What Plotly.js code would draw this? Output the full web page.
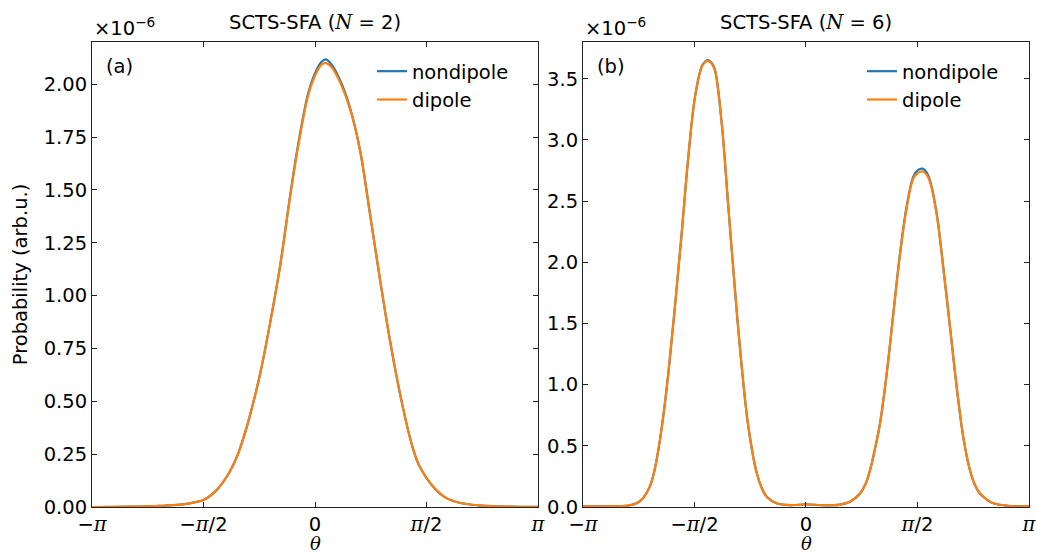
<!DOCTYPE html>
<html><head><meta charset="utf-8">
<script src="https://cdn.plot.ly/plotly-3.0.1.min.js"></script>
<style>body{margin:0;background:#fff}</style>
</head><body>
<div id="chart" style="width:1037px;height:557px"></div>
<script>
// Panel (a): N = 2 ; probability in units of 1e-6
const thetaA = [-3.1416,-2.80,-2.50,-2.20,-1.90,-1.70,-1.571,-1.40,-1.30,-1.195,-1.08,-0.960,-0.865,-0.773,-0.633,-0.492,-0.352,-0.235,-0.094,0.024,0.09,0.155,0.24,0.352,0.492,0.633,0.773,0.914,1.055,1.195,1.336,1.40,1.477,1.664,1.852,2.039,2.30,2.60,2.90,3.1416];
const nondipoleA = [0.000,0.0005,0.002,0.005,0.011,0.022,0.033,0.075,0.115,0.17,0.255,0.38,0.50,0.63,0.87,1.14,1.47,1.72,1.96,2.07,2.105,2.118,2.09,2.02,1.89,1.69,1.39,1.08,0.79,0.54,0.33,0.255,0.19,0.096,0.042,0.02,0.008,0.003,0.001,0.0005];
const dipoleA    = [0.000,0.0005,0.002,0.005,0.011,0.022,0.033,0.075,0.115,0.17,0.255,0.38,0.50,0.63,0.87,1.14,1.465,1.71,1.95,2.058,2.092,2.100,2.078,2.01,1.885,1.69,1.39,1.08,0.79,0.54,0.33,0.255,0.19,0.096,0.042,0.02,0.008,0.003,0.001,0.0005];

// Panel (b): N = 6 ; probability in units of 1e-6
const thetaB = [-3.1416,-2.90,-2.62,-2.50,-2.385,-2.29,-2.198,-2.13,-2.057,-2.00,-1.940,-1.846,-1.751,-1.658,-1.564,-1.469,-1.43,-1.385,-1.33,-1.282,-1.188,-1.095,-1.000,-0.906,-0.813,-0.695,-0.62,-0.554,-0.413,-0.21,0.0,0.21,0.40,0.479,0.620,0.761,0.84,0.902,0.97,1.042,1.137,1.230,1.324,1.419,1.512,1.58,1.644,1.70,1.747,1.841,1.934,2.029,2.123,2.216,2.310,2.38,2.451,2.55,2.639,2.874,3.1416];
const nondipoleB = [0.005,0.005,0.007,0.012,0.03,0.075,0.17,0.31,0.55,0.79,1.09,1.64,2.24,2.86,3.35,3.60,3.635,3.652,3.63,3.57,3.14,2.46,1.77,1.15,0.66,0.28,0.15,0.084,0.03,0.015,0.022,0.015,0.015,0.02,0.043,0.11,0.19,0.30,0.47,0.68,1.09,1.58,2.07,2.46,2.70,2.755,2.765,2.735,2.67,2.40,1.96,1.47,0.98,0.57,0.30,0.18,0.11,0.06,0.03,0.008,0.005];
const dipoleB    = [0.005,0.005,0.007,0.012,0.03,0.075,0.17,0.31,0.55,0.79,1.09,1.64,2.24,2.86,3.35,3.597,3.63,3.645,3.625,3.565,3.14,2.46,1.77,1.15,0.66,0.28,0.15,0.084,0.03,0.015,0.022,0.015,0.015,0.02,0.043,0.11,0.19,0.30,0.47,0.68,1.09,1.575,2.06,2.445,2.685,2.73,2.742,2.715,2.655,2.39,1.955,1.47,0.98,0.57,0.30,0.18,0.11,0.06,0.03,0.008,0.005];

const xTickVals = [-Math.PI, -Math.PI/2, 0, Math.PI/2, Math.PI];
const xTickLabels = ['−π','−π/2','0','π/2','π'];
const seriesNames = ['nondipole','dipole'];
const panelTitles = ['SCTS-SFA (N = 2)','SCTS-SFA (N = 6)'];
const panelLabels = ['(a)','(b)'];
const xTitle = 'θ';
const yTitle = 'Probability (arb.u.)';

const SERIF = "DejaVu Serif";
const fmtPi = s => s.replace('π', '<span style="font-family:\'' + SERIF + '\'"><i>π</i></span>');
const fmtN = s => s.replace('N', '<span style="font-family:\'' + SERIF + '\'"><i>N</i></span>');
const xTickText = xTickLabels.map(fmtPi);

const BLUE = '#1f77b4', ORANGE = '#ff7f0e';
const LW = 2.2;
function tr(x, y, name, color, xa, ya, lg) {
  return {x: x, y: y, name: name, type: 'scatter', mode: 'lines',
    line: {color: color, width: LW, shape: 'spline', smoothing: 1},
    xaxis: xa, yaxis: ya, legend: lg, hoverinfo: 'skip'};
}
const data = [
  tr(thetaA, nondipoleA, seriesNames[0], BLUE, 'x', 'y', 'legend'),
  tr(thetaA, dipoleA, seriesNames[1], ORANGE, 'x', 'y', 'legend'),
  tr(thetaB, nondipoleB, seriesNames[0], BLUE, 'x2', 'y2', 'legend2'),
  tr(thetaB, dipoleB, seriesNames[1], ORANGE, 'x2', 'y2', 'legend2')
];

const FS = 19.5;
const axisCommon = {
  showline: true, linecolor: '#222', linewidth: 1, mirror: 'ticks',
  ticks: 'inside', ticklen: 5, tickwidth: 1, tickcolor: '#222',
  showgrid: false, zeroline: false,
  tickfont: {family: 'DejaVu Sans', size: FS, color: '#000'}
};
const xCommon = Object.assign({}, axisCommon, {
  range: [-Math.PI, Math.PI], tickmode: 'array', tickvals: xTickVals, ticktext: xTickText
});

const pH = 465, pW = 937;
const px = v => (v - 92) / pW;
const py = v => (507 - v) / pH;

const layout = {
  width: 1037, height: 557,
  margin: {l: 92, r: 8, t: 42, b: 50},
  paper_bgcolor: '#fff', plot_bgcolor: '#fff',
  font: {family: 'DejaVu Sans', size: FS, color: '#000'},
  xaxis: Object.assign({}, xCommon, {domain: [0, 0.476], anchor: 'y'}),
  xaxis2: Object.assign({}, xCommon, {domain: [0.524, 1], anchor: 'y2'}),
  yaxis: Object.assign({}, axisCommon, {range: [0, 2.2], tick0: 0, dtick: 0.25, tickformat: '.2f', anchor: 'x',
    title: {text: yTitle, font: {family: 'DejaVu Sans', size: FS, color: '#000'}, standoff: 10}}),
  yaxis2: Object.assign({}, axisCommon, {range: [0, 3.8], tick0: 0, dtick: 0.5, tickformat: '.1f', anchor: 'x2'}),
  legend: {x: px(372), y: py(52), xanchor: 'left', yanchor: 'top', bgcolor: 'rgba(0,0,0,0)',
    font: {family: 'DejaVu Sans', size: FS, color: '#000'}},
  legend2: {x: px(862), y: py(52), xanchor: 'left', yanchor: 'top', bgcolor: 'rgba(0,0,0,0)',
    font: {family: 'DejaVu Sans', size: FS, color: '#000'}},
  annotations: [
    {text: fmtN(panelTitles[0]), xref: 'paper', yref: 'paper', x: px(315), y: py(22), xanchor: 'center', yanchor: 'middle', showarrow: false, font: {size: FS}},
    {text: fmtN(panelTitles[1]), xref: 'paper', yref: 'paper', x: px(806), y: py(22), xanchor: 'center', yanchor: 'middle', showarrow: false, font: {size: FS}},
    {text: '×10<sup>−6</sup>', xref: 'paper', yref: 'paper', x: px(92), y: py(27), xanchor: 'left', yanchor: 'middle', showarrow: false, font: {size: FS}},
    {text: '×10<sup>−6</sup>', xref: 'paper', yref: 'paper', x: px(583), y: py(27), xanchor: 'left', yanchor: 'middle', showarrow: false, font: {size: FS}},
    {text: panelLabels[0], xref: 'paper', yref: 'paper', x: px(104), y: py(67), xanchor: 'left', yanchor: 'middle', showarrow: false, font: {size: FS}},
    {text: panelLabels[1], xref: 'paper', yref: 'paper', x: px(595), y: py(67), xanchor: 'left', yanchor: 'middle', showarrow: false, font: {size: FS}},
    {text: '<i>' + xTitle + '</i>', xref: 'paper', yref: 'paper', x: px(315), y: py(556), xanchor: 'center', yanchor: 'bottom', showarrow: false, font: {family: SERIF, size: 18}},
    {text: '<i>' + xTitle + '</i>', xref: 'paper', yref: 'paper', x: px(806), y: py(556), xanchor: 'center', yanchor: 'bottom', showarrow: false, font: {family: SERIF, size: 18}}
  ]
};

Plotly.newPlot('chart', data, layout, {staticPlot: true, displayModeBar: false});
</script>
</body></html>
